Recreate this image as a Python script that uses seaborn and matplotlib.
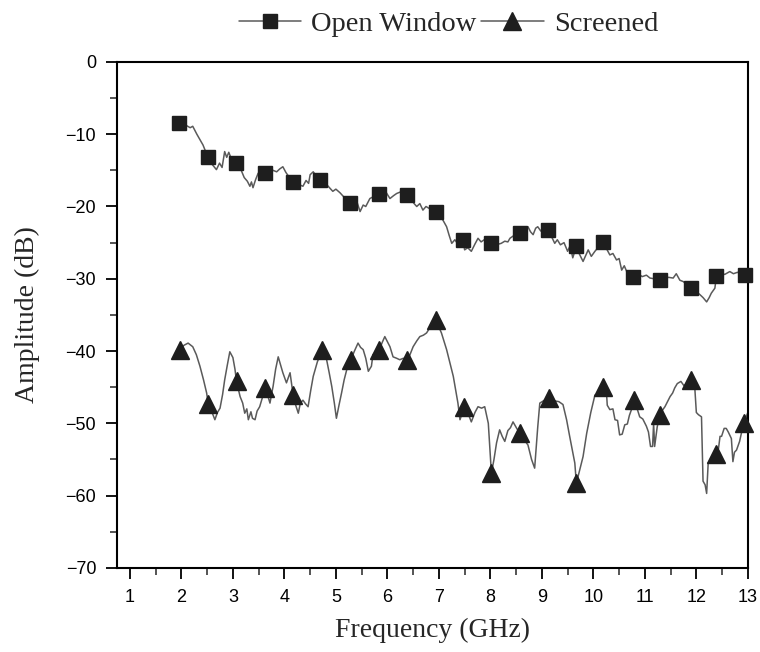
import numpy as np
import pandas as pd
import matplotlib
matplotlib.use("Agg")
import matplotlib.pyplot as plt
from matplotlib.lines import Line2D
from matplotlib.ticker import MultipleLocator
import seaborn as sns

# ---- data ----
open_x = [1.95, 2.05, 2.17, 2.22, 2.30, 2.42, 2.51, 2.60, 2.68, 2.74, 2.79, 2.84, 2.88, 2.92, 2.98,
          3.06, 3.15, 3.22, 3.28, 3.33, 3.36, 3.39, 3.44, 3.49, 3.55, 3.62, 3.70, 3.78, 3.85, 3.91,
          3.97, 4.03, 4.10, 4.17, 4.26, 4.36, 4.42, 4.47, 4.50, 4.56, 4.62, 4.69, 4.77, 4.85, 4.94,
          5.00, 5.08, 5.17, 5.27, 5.36, 5.41, 5.47, 5.53, 5.58, 5.66, 5.74, 5.83, 5.92, 5.98, 6.05,
          6.12, 6.18, 6.25, 6.31, 6.38, 6.46, 6.52, 6.57, 6.63, 6.69, 6.75, 6.82, 6.94, 7.02, 7.08,
          7.15, 7.20, 7.25, 7.31, 7.38, 7.47, 7.50, 7.56, 7.63, 7.70, 7.76, 7.82, 7.88, 7.95, 8.02,
          8.11, 8.21, 8.28, 8.34, 8.38, 8.46, 8.57, 8.65, 8.73, 8.78, 8.83, 8.88, 8.92, 8.98, 9.05,
          9.12, 9.19, 9.25, 9.30, 9.36, 9.43, 9.50, 9.55, 9.60, 9.67, 9.73, 9.80, 9.85, 9.90, 9.96,
          10.03, 10.10, 10.19, 10.26, 10.32, 10.38, 10.45, 10.50, 10.55, 10.60, 10.66, 10.77, 10.86,
          10.95, 11.03, 11.10, 11.18, 11.29, 11.38, 11.46, 11.55, 11.61, 11.68, 11.75, 11.82, 11.89,
          11.97, 12.07, 12.13, 12.20, 12.25, 12.29, 12.36, 12.39, 12.47, 12.55, 12.65, 12.72, 12.80,
          12.87, 12.94, 13.00]
open_y = [-8.4, -8.6, -9.1, -8.9, -10.0, -11.5, -13.1, -14.2, -14.9, -14.0, -14.6, -12.4, -13.2, -12.5, -13.6,
          -14.0, -14.8, -16.0, -16.5, -17.2, -16.6, -17.4, -16.3, -15.4, -15.6, -15.3, -15.6, -15.0, -15.2, -14.8,
          -14.5, -15.3, -16.0, -16.6, -16.9, -17.2, -16.4, -16.8, -15.6, -15.2, -15.8, -16.3, -16.6, -17.2, -17.9,
          -17.6, -18.1, -18.8, -19.5, -20.1, -19.4, -20.7, -19.8, -20.0, -18.9, -18.6, -18.3, -18.7, -18.1, -18.9,
          -18.5, -18.2, -18.0, -18.6, -18.4, -19.0, -19.6, -20.0, -19.6, -20.5, -20.0, -20.3, -20.7, -21.2, -21.9,
          -22.8, -24.0, -25.1, -24.6, -25.3, -24.6, -26.0, -25.7, -26.2, -25.2, -24.4, -24.9, -24.6, -25.2, -25.0,
          -25.3, -25.1, -24.8, -24.9, -24.4, -24.0, -23.6, -23.3, -22.8, -23.5, -23.9, -23.0, -22.8, -23.4, -22.9,
          -23.2, -24.2, -25.1, -24.6, -25.3, -25.0, -26.2, -25.4, -27.1, -25.5, -26.6, -27.6, -26.8, -26.0, -26.9,
          -26.2, -25.6, -24.9, -25.9, -26.7, -26.5, -27.4, -27.2, -28.8, -28.2, -29.2, -29.7, -29.3,
          -29.7, -29.5, -29.9, -30.0, -30.2, -30.0, -29.8, -29.9, -29.3, -30.2, -30.4, -30.9, -31.3,
          -31.6, -32.2, -32.6, -33.2, -32.6, -32.0, -31.3, -29.6, -29.2, -29.4, -29.0, -29.3, -29.1,
          -29.4, -29.5, -29.4]

scr_x = [1.97, 2.05, 2.13, 2.22, 2.29, 2.36, 2.43, 2.49, 2.52, 2.58, 2.65, 2.70, 2.75, 2.80, 2.84,
         2.89, 2.94, 3.00, 3.04, 3.07, 3.14, 3.19, 3.23, 3.27, 3.30, 3.35, 3.38, 3.43, 3.47, 3.52,
         3.57, 3.62, 3.67, 3.72, 3.75, 3.78, 3.83, 3.88, 3.93, 3.97, 4.04, 4.11, 4.15, 4.17, 4.22,
         4.27, 4.31, 4.36, 4.41, 4.46, 4.51, 4.56, 4.64, 4.73, 4.82, 4.87, 4.92, 4.97, 5.01, 5.06,
         5.11, 5.16, 5.21, 5.29, 5.36, 5.43, 5.48, 5.53, 5.58, 5.63, 5.69, 5.72, 5.77, 5.84, 5.90,
         5.95, 6.00, 6.05, 6.11, 6.18, 6.24, 6.31, 6.39, 6.45, 6.50, 6.57, 6.63, 6.70, 6.76, 6.85,
         6.94, 7.05, 7.15, 7.22, 7.28, 7.34, 7.37, 7.41, 7.49, 7.56, 7.63, 7.70, 7.76, 7.83, 7.89,
         7.96, 8.02, 8.07, 8.12, 8.18, 8.23, 8.28, 8.34, 8.39, 8.44, 8.52, 8.58, 8.66, 8.73, 8.80,
         8.86, 8.92, 8.96, 9.05, 9.14, 9.25, 9.33, 9.41, 9.48, 9.54, 9.60, 9.64, 9.67, 9.75, 9.80,
         9.87, 9.95, 10.03, 10.10, 10.19, 10.25, 10.27, 10.32, 10.38, 10.42, 10.47, 10.51, 10.56,
         10.61, 10.66, 10.70, 10.74, 10.79, 10.86, 10.90, 10.96, 11.03, 11.07, 11.11, 11.15, 11.17,
         11.19, 11.24, 11.29, 11.34, 11.39, 11.44, 11.49, 11.54, 11.58, 11.63, 11.70, 11.76, 11.82,
         11.89, 11.94, 11.97, 12.00, 12.04, 12.10, 12.13, 12.17, 12.20, 12.23, 12.30, 12.38, 12.43,
         12.46, 12.49, 12.54, 12.58, 12.62, 12.68, 12.71, 12.74, 12.78, 12.84, 12.88, 12.93, 13.00]
scr_y = [-39.8, -39.2, -38.9, -39.4, -40.5, -42.1, -44.0, -45.8, -47.3, -48.2, -49.5, -48.5, -47.9, -46.0, -44.0,
         -42.0, -40.1, -40.9, -42.5, -44.2, -46.3, -47.2, -48.6, -48.0, -49.5, -48.4, -49.3, -49.5, -48.3, -47.7,
         -46.5, -45.1, -46.0, -47.2, -46.0, -44.9, -42.5, -40.8, -42.0, -43.0, -44.4, -43.0, -45.0, -46.1, -47.5,
         -48.6, -47.2, -46.8, -47.3, -47.7, -45.5, -43.5, -41.5, -39.9, -41.2, -43.0, -44.9, -47.2, -49.3, -47.5,
         -45.8, -44.0, -42.6, -41.2, -40.0, -38.9, -39.5, -39.8, -41.0, -42.8, -42.1, -40.5, -40.2, -39.9, -38.8,
         -38.0, -38.7, -39.4, -40.8, -41.0, -41.2, -41.0, -41.3, -40.3, -39.4, -38.6, -38.0, -37.8, -37.5, -36.5,
         -35.7, -37.5, -39.8, -41.8, -43.5, -46.0, -47.2, -49.5, -47.8, -48.5, -49.8, -48.5, -47.7, -47.9, -47.7,
         -50.0, -56.9, -55.0, -52.7, -50.9, -51.8, -52.5, -51.0, -50.6, -49.8, -50.8, -51.4, -52.3, -53.0, -55.0,
         -56.2, -50.5, -47.2, -46.8, -46.5, -46.9, -47.0, -47.4, -49.5, -51.8, -54.0, -55.5, -58.3, -56.0, -54.6,
         -51.4, -48.5, -46.1, -46.0, -45.0, -45.2, -47.5, -48.1, -48.0, -49.5, -49.6, -51.6, -51.5,
         -50.2, -50.1, -48.9, -48.1, -46.8, -48.2, -49.1, -49.4, -50.4, -51.2, -53.2, -53.2, -50.0,
         -53.2, -50.5, -48.8, -48.2, -47.7, -47.0, -46.3, -45.8, -45.1, -44.5, -44.2, -44.8, -44.5,
         -44.0, -44.4, -45.1, -48.5, -48.8, -49.1, -58.0, -58.5, -59.7, -55.5, -54.8, -54.2, -53.5,
         -51.8, -51.8, -50.7, -50.7, -51.2, -52.1, -55.3, -54.0, -53.7, -52.5, -51.2, -49.8, -48.5]

open_mx = [1.95, 2.51, 3.06, 3.62, 4.17, 4.69, 5.27, 5.83, 6.38, 6.94, 7.47, 8.02, 8.57, 9.12, 9.67,
           10.19, 10.77, 11.29, 11.89, 12.39, 12.94]
open_my = [-8.4, -13.1, -14.0, -15.3, -16.6, -16.3, -19.5, -18.3, -18.4, -20.7, -24.6, -25.0, -23.6, -23.2,
           -25.5, -24.9, -29.7, -30.2, -31.3, -29.6, -29.5]
scr_mx = [1.97, 2.52, 3.07, 3.62, 4.17, 4.73, 5.29, 5.84, 6.39, 6.94, 7.49, 8.02, 8.58, 9.14, 9.67,
          10.19, 10.79, 11.29, 11.89, 12.38, 12.93]
scr_my = [-39.8, -47.3, -44.2, -45.1, -46.1, -39.9, -41.2, -39.9, -41.3, -35.7, -47.8, -56.9, -51.4, -46.5,
          -58.3, -45.0, -46.8, -48.8, -44.0, -54.2, -50.0]

series_names = ["Open Window", "Screened"]
x_label = "Frequency (GHz)"
y_label = "Amplitude (dB)"

# ---- figure ----
sns.set_style("ticks")
plt.rcParams["font.family"] = ["Liberation Sans", "DejaVu Sans"]
serif = ["Liberation Serif", "DejaVu Serif"]

fig = plt.figure(figsize=(7.6, 6.52), dpi=100)
ax = fig.add_axes([0.154, 0.129, 0.830, 0.776])

line_col = "#5a5a5a"
mark_col = "#1e1e1e"

df_open = pd.DataFrame({"f": open_x, "a": open_y})
df_scr = pd.DataFrame({"f": scr_x, "a": scr_y})
sns.lineplot(data=df_open, x="f", y="a", ax=ax, sort=False, estimator=None,
             color=line_col, lw=1.1, legend=False)
sns.lineplot(data=df_scr, x="f", y="a", ax=ax, sort=False, estimator=None,
             color=line_col, lw=1.1, legend=False)
ax.plot(open_mx, open_my, ls="none", marker="s", ms=10, color=mark_col, mec=mark_col, zorder=5, clip_on=False)
ax.plot(scr_mx, scr_my, ls="none", marker="^", ms=13, color=mark_col, mec=mark_col, zorder=5, clip_on=False)

ax.set_xlim(0.75, 13)
ax.set_ylim(-70, 0)
ax.xaxis.set_major_locator(MultipleLocator(1))
ax.xaxis.set_minor_locator(MultipleLocator(0.5))
ax.yaxis.set_major_locator(MultipleLocator(10))
ax.yaxis.set_minor_locator(MultipleLocator(5))
ax.tick_params(which="major", direction="out", length=8, width=1.3, labelsize=13, colors="black")
ax.tick_params(which="minor", direction="out", length=5, width=1.1)
ax.tick_params(axis="x", which="major", pad=7)
ax.tick_params(axis="y", which="major", pad=7)
ax.set_yticks(np.arange(-70, 1, 10))
ax.set_yticklabels([("\u2212%d" % -v) if v < 0 else "0" for v in range(-70, 1, 10)])
for s in ax.spines.values():
    s.set_visible(True)
    s.set_linewidth(1.5)
    s.set_color("black")

ax.set_xlabel(x_label, family=serif, fontsize=20, labelpad=9)
ax.set_ylabel(y_label, family=serif, fontsize=20, labelpad=18)

handles = [Line2D([], [], color=line_col, lw=1.1, marker="s", ms=10, mfc=mark_col, mec=mark_col),
           Line2D([], [], color=line_col, lw=1.1, marker="^", ms=13, mfc=mark_col, mec=mark_col)]
fig.legend(handles, series_names, loc="center", bbox_to_anchor=(0.59, 0.963), ncol=2,
           frameon=False, prop={"family": serif, "size": 20.5}, handlelength=2.2,
           handletextpad=0.35, columnspacing=0.15, borderaxespad=0)

fig.savefig("out.png", dpi=100, facecolor="white")
